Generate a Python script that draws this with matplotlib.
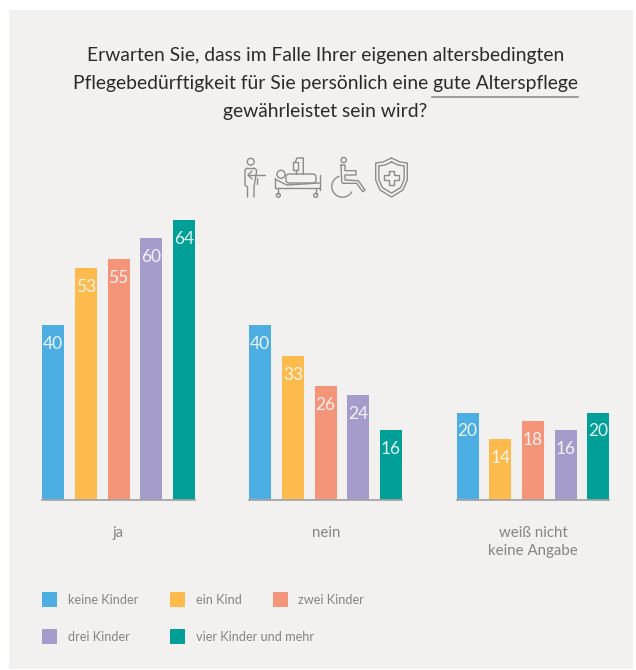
import matplotlib

matplotlib.use("Agg")
import matplotlib.pyplot as plt  # noqa: E402
import numpy as np  # noqa: E402
from matplotlib.patches import Circle, FancyBboxPatch, Rectangle  # noqa: E402

W, H = 636, 670

groups = ["ja", "nein", "weiß nicht\nkeine Angabe"]
series = ["keine Kinder", "ein Kind", "zwei Kinder", "drei Kinder", "vier Kinder und mehr"]
keine_kinder = [40, 40, 20]
ein_kind = [53, 33, 14]
zwei_kinder = [55, 26, 18]
drei_kinder = [60, 24, 16]
vier_kinder = [64, 16, 20]
colors = ["#4daee3", "#fdba4d", "#f49479", "#a69ccb", "#009f98"]

title_lines = [
    "Erwarten Sie, dass im Falle Ihrer eigenen altersbedingten",
    "Pflegebedürftigkeit für Sie persönlich eine gute Alterspflege",
    "gewährleistet sein wird?",
]

plt.rcParams["font.family"] = ["Lato", "DejaVu Sans"]

fig = plt.figure(figsize=(W / 100, H / 100), dpi=100, facecolor="white")

# Hintergrund, Titel, Legende und Icons in Pixelkoordinaten
bg = fig.add_axes([0, 0, 1, 1])
bg.set_xlim(0, W)
bg.set_ylim(H, 0)
bg.axis("off")
bg.add_patch(Rectangle((9, 10), 624, 659, facecolor="#f2f1ef", edgecolor="none"))

for y, line in zip([55.5, 83.5, 112], title_lines):
    bg.text(325.5, y, line, ha="center", va="center", fontsize=13.85, color="#2b2b2b")
bg.plot([432, 578], [96.5, 96.5], color="#858585", lw=1.1)

# Icons
ICON = dict(color="#8c8c8c", lw=1.0, solid_capstyle="round")


def circle(x, y, r):
    bg.add_patch(Circle((x, y), r, fill=False, edgecolor="#8c8c8c", lw=1.0))


def poly(xs, ys):
    bg.plot(xs, ys, **ICON)


# Person mit Pfeil
circle(250.7, 161.7, 3.4)
poly([247, 245, 245, 247.5, 247.5], [168, 170, 185, 187, 197])
poly([254, 256.5, 256.5, 254, 254], [168, 170, 172, 187, 197])
poly([247, 254], [168, 168])
poly([248, 265], [175, 175])
poly([252, 248, 252], [171, 175, 179])
poly([256.5, 256.5], [178, 184])
# Bett
circle(281, 174.3, 4)
poly([275, 275, 319.5], [178, 188.3, 188.3])
poly([319.5, 319.5], [175, 190])
poly([275, 287, 319.5], [179.3, 185, 183])
bg.add_patch(FancyBboxPatch((286, 174), 30, 9, boxstyle="round,pad=0,rounding_size=3",
                            fill=False, edgecolor="#8c8c8c", lw=1.0))
poly([303.3, 303.3, 297, 295.5], [174, 158, 158, 161.5])
bg.add_patch(Rectangle((293.3, 161.7), 5, 8.3, fill=False, edgecolor="#8c8c8c", lw=1.0))
poly([296, 296], [170, 174])
poly([278.3, 278.3], [188.3, 193.5])
poly([315.7, 315.7], [188.3, 193.5])
circle(278.3, 195.3, 2)
circle(315.7, 195.3, 2)
# Rollstuhl
circle(343.7, 160, 2.6)
poly([341, 341.7, 342.7, 356.7, 362.7, 365, 358.3, 345, 345, 356, 356, 345, 345, 341],
     [165, 181.7, 183.3, 183.3, 191.7, 190, 180.7, 180, 175, 175, 170.7, 170.7, 165, 165])
wheel = np.radians(np.arange(251, 30, -5))
poly(342.5 + 10.7 * np.cos(wheel), 186.5 + 10.7 * np.sin(wheel))
# Schild
sx = np.array([391.5, 400, 407.3, 407.3, 403, 391.5, 380, 375.7, 375.7, 383, 391.5])
sy = np.array([158, 162, 163, 180, 190, 197, 190, 180, 163, 162, 158])
poly(sx, sy)
poly(391.5 + (sx - 391.5) * 0.8, 177.5 + (sy - 177.5) * 0.8)
poly([389, 394, 394, 399, 399, 394, 394, 389, 389, 384, 384, 389, 389],
     [171, 171, 175, 175, 180, 180, 185, 185, 180, 180, 175, 175, 171])

# Balken
ax = fig.add_axes([0, 0, 1, 1], facecolor="none")
baseline = 500
px_per_unit = 4.375
ax.set_position([30 / W, (H - baseline) / H, 590 / W, 290 / H])
ax.set_ylim(0, 290 / px_per_unit)
ax.set_xlim((30 - 118.5) / 207.2, (620 - 118.5) / 207.2)
ax.axis("off")

values = [keine_kinder, ein_kind, zwei_kinder, drei_kinder, vier_kinder]
x = np.arange(len(groups))
step = 32.7 / 207.2
width = 22 / 207.2
for i, (name, vals, c) in enumerate(zip(series, values, colors)):
    pos = x + (i - 2) * step
    ax.bar(pos, vals, width, color=c, label=name)
    for p, v in zip(pos, vals):
        ax.annotate(str(v), (p, v), xytext=(0, -19), textcoords="offset pixels",
                    ha="center", va="center", fontsize=12.5, color="white", alpha=0.88)

for gx in x:
    ax.plot([gx - 2 * step - width / 2, gx + 2 * step + width / 2], [0, 0],
            color="#a5a5a5", lw=1.3, zorder=5, clip_on=False)

for gx, label in zip(x, groups):
    ax.annotate(label, (gx, 0), xytext=(0, -26), textcoords="offset pixels",
                ha="center", va="top", fontsize=10.8, color="#858585", linespacing=1.35)

# Legende
legend_pos = [(42, 600), (170, 600), (273, 600), (42, 637), (170, 637)]
for (lx, ly), name, c in zip(legend_pos, series, colors):
    bg.add_patch(Rectangle((lx, ly - 8), 15, 15, facecolor=c, edgecolor="none"))
    bg.text(lx + 25.5, ly, name, ha="left", va="center", fontsize=9.2, color="#858585")

fig.savefig("out.png", dpi=100)
plt.close(fig)
